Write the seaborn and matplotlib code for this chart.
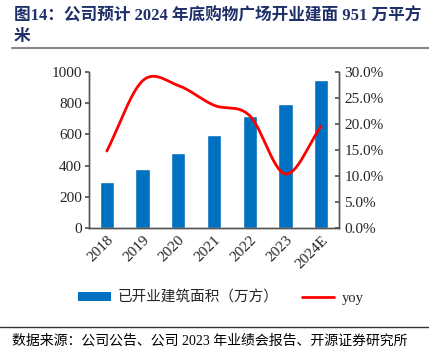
import numpy as np
import pandas as pd
import matplotlib
matplotlib.use("Agg")
import matplotlib.pyplot as plt
import seaborn as sns
from matplotlib.lines import Line2D
from matplotlib.patches import Patch

years = ["2018", "2019", "2020", "2021", "2022", "2023", "2024E"]
area = [295, 378, 480, 593, 721, 796, 951]
yoy = [0.148, 0.283, 0.274, 0.236, 0.216, 0.104, 0.196]
left_ticks = [0, 200, 400, 600, 800, 1000]
right_ticks = [0.0, 0.05, 0.10, 0.15, 0.20, 0.25, 0.30]

sns.set_theme(style="white")
FONTS = ["Liberation Serif", "Noto Sans CJK SC", "DejaVu Sans"]
plt.rcParams["font.family"] = FONTS

fig = plt.figure(figsize=(4.29, 3.58), dpi=100)
ax = fig.add_axes([89/429, 1-228/358, 250/429, 156/358])

df = pd.DataFrame({"year": years, "area": area, "yoy": yoy})
sns.barplot(data=df, x="year", y="area", color="#0070C0", saturation=1,
            width=0.4, ax=ax)
ax.set_xlim(-0.5, 6.5)
ax.set_ylim(0, 1000)
ax.set_yticks(left_ticks)
ax.set_yticklabels([str(v) for v in left_ticks], fontsize=11)
ax.set_xlabel("")
ax.set_ylabel("")
ax.set_xticks(np.arange(len(years)))
ax.set_xticklabels(years, rotation=45, ha="right", rotation_mode="anchor", fontsize=11)
ax.tick_params(axis="x", length=0, pad=4)
ax.set_xticks(np.arange(len(years)) - 0.5 + 1, minor=True)
ax.tick_params(axis="x", which="minor", direction="in", length=3, color="#555555")
ax.tick_params(axis="y", direction="out", length=3, color="#555555", left=True, pad=2)

# smooth line (Catmull-Rom through the data points)
ax2 = ax.twinx()
x = np.arange(len(yoy), dtype=float)
y = np.array(yoy)
px = np.concatenate([[2*x[0]-x[1]], x, [2*x[-1]-x[-2]]])
py = np.concatenate([[2*y[0]-y[1]], y, [2*y[-1]-y[-2]]])
xs, ys = [], []
for i in range(1, len(px) - 2):
    t = np.linspace(0, 1, 30)
    for P, out in ((px, xs), (py, ys)):
        p0, p1, p2, p3 = P[i-1], P[i], P[i+1], P[i+2]
        out.extend(0.5*((2*p1) + (-p0+p2)*t + (2*p0-5*p1+4*p2-p3)*t**2 + (-p0+3*p1-3*p2+p3)*t**3))
sm = pd.DataFrame({"x": xs, "y": ys})
sns.lineplot(data=sm, x="x", y="y", color="#FF0000", linewidth=2, ax=ax2, sort=False)
ax2.set_ylim(0, 0.30)
ax2.set_yticks(right_ticks)
ax2.set_yticklabels([f"{v*100:.1f}%" for v in right_ticks], fontsize=11)
ax2.set_ylabel("")
ax2.set_xlabel("")
ax2.tick_params(axis="y", direction="in", length=3, color="#555555", right=True, pad=4)

for a in (ax, ax2):
    a.spines["top"].set_visible(False)
    for s in ("left", "bottom", "right"):
        a.spines[s].set_color("#555555")
        a.spines[s].set_linewidth(1)

# title
fig.text(14/429, 1-16/358, "图14：公司预计 2024 年底购物广场开业建面 951 万平方",
         fontsize=12, fontweight="bold", color="#1F3069", va="center", ha="left",
         family=FONTS)
fig.text(14/429, 1-37/358, "米", fontsize=12, fontweight="bold", color="#1F3069",
         va="center", ha="left", family=FONTS)
fig.add_artist(Line2D([12/429, 1.0], [1-48/358, 1-48/358], color="#888888", linewidth=1.5))

# legend
handles = [Patch(facecolor="#0070C0", edgecolor="none"),
           Line2D([0], [0], color="#FF0000", linewidth=2)]
fig.legend(handles, ["已开业建筑面积（万方）", "yoy"], loc="center",
           bbox_to_anchor=(0.515, 1-298/358), ncol=2, frameon=False,
           handlelength=2.2, handleheight=0.6, handletextpad=0.5, columnspacing=1.6,
           prop={"family": FONTS, "size": 10.5})

fig.add_artist(Line2D([0, 1.0], [1-327/358, 1-327/358], color="#333333", linewidth=1))
fig.text(12/429, 1-341/358, "数据来源：公司公告、公司 2023 年业绩会报告、开源证券研究所",
         fontsize=10, color="#000000", va="center", ha="left", family=FONTS)

fig.savefig("out.png", dpi=100)
